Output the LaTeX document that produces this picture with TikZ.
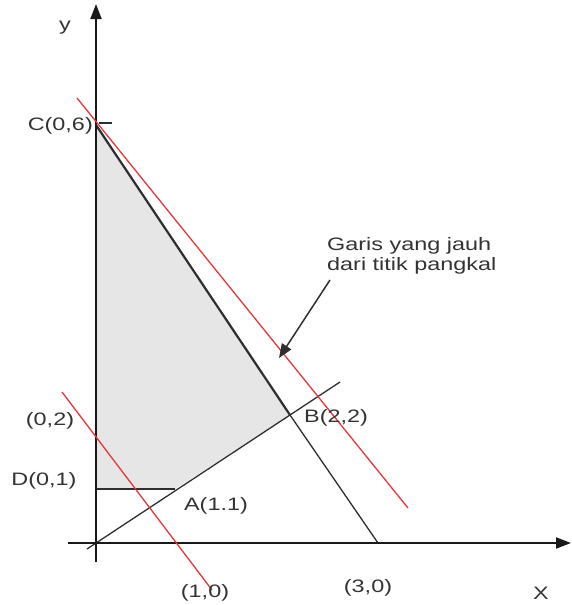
\documentclass[tikz,border=0pt]{standalone}
\usepackage{fontspec}
\setmainfont{Liberation Sans}[FakeStretch=1.3]
\usetikzlibrary{arrows.meta}
\definecolor{txt}{HTML}{333333}
\definecolor{ln}{HTML}{2E2E2E}
\definecolor{redl}{HTML}{E8353A}
\definecolor{regionfill}{HTML}{E6E6E6}
\begin{document}
\begin{tikzpicture}[x=1pt,y=-1pt,
  lbl/.style={text=txt,font=\fontsize{18}{20}\selectfont,inner sep=0pt},
  axis/.style={line width=1.8pt,draw=black!90,-{Triangle[length=15pt,width=11pt]}},
  thinline/.style={line width=1.3pt,draw=ln},
  redline/.style={line width=1.3pt,draw=redl},
  pointer/.style={line width=1.5pt,draw=ln,-{Triangle[length=14pt,width=11pt]}}]
\useasboundingbox (0,0) rectangle (571,605);
% key points
\coordinate (O) at (96,543);
\coordinate (C) at (96,125);
\coordinate (D) at (96,489);
\coordinate (A) at (175,489);
\coordinate (B) at (290,415);
\coordinate (T) at (378,543);
\coordinate (Ystart) at (96,562);
\coordinate (Ytip) at (96,4);
\coordinate (Xstart) at (68,543);
\coordinate (Xtip) at (571,543);
\coordinate (L0) at (87,549);
\coordinate (L1) at (340,382);
\coordinate (R1a) at (77,98);
\coordinate (R1b) at (408,508);
\coordinate (R2a) at (62,392);
\coordinate (R2b) at (212,590);
\coordinate (Pa) at (330,280);
\coordinate (Pb) at (279,358);
\coordinate (Ta) at (99,123);
\coordinate (Tb) at (112,123);
% feasible region
\fill[regionfill] (C) -- (D) -- (A) -- (B) -- cycle;
% lines
\draw[thinline] (L0) -- (L1);
\draw[thinline] (B) -- (T);
\draw[line width=2.2pt,draw=ln] (C) -- (B);
\draw[thinline] (D) -- (A);
\draw[line width=1.2pt,draw=ln] (Ta) -- (Tb);
% axes
\draw[axis] (Ystart) -- (Ytip);
\draw[axis] (Xstart) -- (Xtip);
% red lines
\draw[redline] (R1a) -- (R1b);
\draw[redline] (R2a) -- (R2b);
% pointer arrow
\draw[pointer] (Pa) -- (Pb);
% labels
\node[lbl] (ly) at (65,28) {y};
\node[lbl,anchor=east] (lC) at (93,126) {C(0,6)};
\node[lbl] (l02) at (50,421) {(0,2)};
\node[lbl] (lD) at (44,481) {D(0,1)};
\node[lbl] (lA) at (216,506) {A(1.1)};
\node[lbl] (l10) at (205,593) {(1,0)};
\node[lbl] (lB) at (336,418) {B(2,2)};
\node[lbl] (l30) at (368,588) {(3,0)};
\node[lbl] (lX) at (541,593) {X};
\node[lbl,anchor=north west,align=left] (lG) at (327,237) {Garis yang jauh\\dari titik pangkal};
\end{tikzpicture}
\end{document}
